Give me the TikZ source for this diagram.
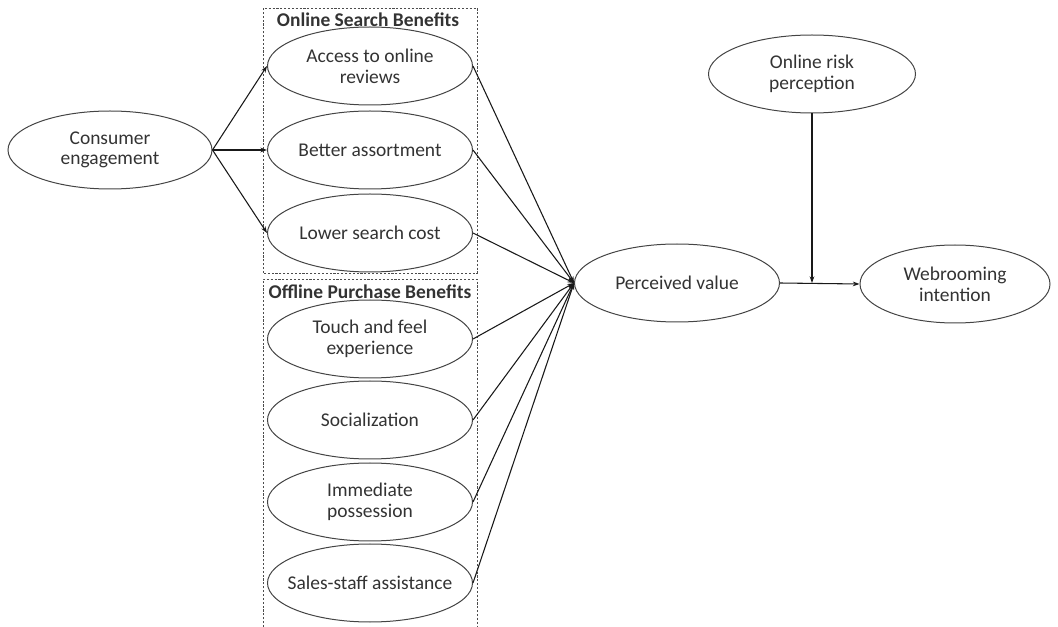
\documentclass[tikz,border=0pt]{standalone}
\usepackage{fontspec}
\setmainfont{Carlito}
\usetikzlibrary{shapes.geometric,arrows.meta}
\definecolor{txt}{HTML}{333333}
\definecolor{edge}{HTML}{444444}
\tikzset{
  oval/.style={ellipse, draw=edge, line width=0.75pt, minimum width=#1*0.75pt, minimum height=78*0.75pt, inner sep=0pt, align=center, text=txt, font=\fontsize{14.6}{15.5}\selectfont},
  oval/.default=205,
  grp/.style={draw=black!70, line width=0.65pt, dash pattern=on 1.6pt off 1.3pt},
  grptitle/.style={font=\bfseries\fontsize{14.6}{15}\selectfont, text=txt, inner sep=0pt},
  link/.style={draw=black!90, line width=0.8pt, -{Stealth[length=5pt,width=3.5pt]}},
}
\begin{document}
\begin{tikzpicture}[x=0.75pt,y=-0.75pt]
\useasboundingbox (0,0) rectangle (1058,627);
% group boxes
\draw[grp] (263,273) -- (263,8) -- (477,8) -- (477,273) -- cycle;
\draw[grp] (263,627) -- (263,279) -- (477,279) -- (477,627);
\node[grptitle] (t1) at (368,20) {Online Search Benefits};
\node[grptitle] (t2) at (370,292) {Offline Purchase Benefits};
% nodes
\node[oval=204] (ce) at (110,150) {Consumer\\engagement};
\node[oval] (a1) at (370,66) {Access to online\\reviews};
\node[oval] (a2) at (370,150) {Better assortment};
\node[oval] (a3) at (370,233) {Lower search cost};
\node[oval] (b1) at (370,339) {Touch and feel\\experience};
\node[oval] (b2) at (370,420) {Socialization};
\node[oval] (b3) at (370,502) {Immediate\\possession};
\node[oval, inner xsep=-12pt] (b4) at (370,583) {Sales-staff assistance};
\node[oval] (pv) at (677,283) {Perceived value};
\node[oval=207] (rk) at (812,74) {Online risk\\perception};
\node[oval=190] (wi) at (955,284) {Webrooming\\intention};
\coordinate (j) at (812,283);
% connectors
\foreach \n in {a1,a2,a3} \draw[link] (ce.east) -- (\n.west);
\foreach \n in {a1,a2,a3,b1,b2,b3,b4} \draw[link] (\n.east) -- (pv.west);
\draw[link] (pv.east) -- (wi.west);
\draw[link] (rk.south) -- (j);
\end{tikzpicture}
\end{document}
